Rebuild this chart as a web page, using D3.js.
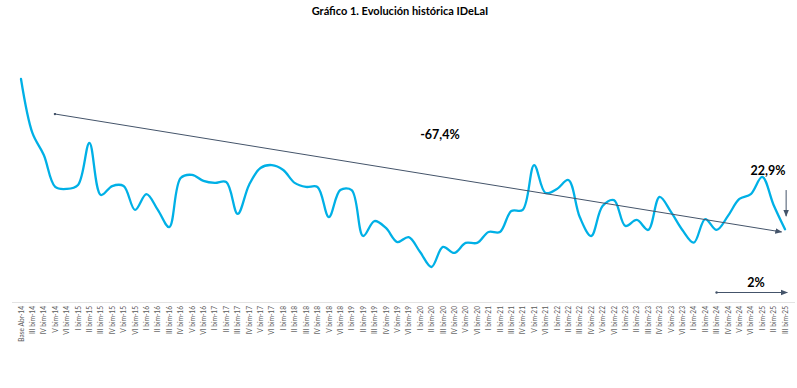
<!DOCTYPE html>
<html>
<head>
<meta charset="utf-8">
<script src="https://cdn.jsdelivr.net/npm/d3@7"></script>
<style>
  html, body { margin: 0; padding: 0; background: #ffffff; }
  svg { display: block; }
</style>
</head>
<body>
<svg id="chart" width="797" height="388"></svg>
<script>
// ---- Data ----
const categories = [
  "Base Abr-14","III bim-14","IV bim-14","V bim-14","VI bim-14",
  "I bim-15","II bim-15","III bim-15","IV bim-15","V bim-15","VI bim-15",
  "I bim-16","II bim-16","III bim-16","IV bim-16","V bim-16","VI bim-16",
  "I bim-17","II bim-17","III bim-17","IV bim-17","V bim-17","VI bim-17",
  "I bim-18","II bim-18","III bim-18","IV bim-18","V bim-18","VI bim-18",
  "I bim-19","II bim-19","III bim-19","IV bim-19","V bim-19","VI bim-19",
  "I bim-20","II bim-20","III bim-20","IV bim-20","V bim-20","VI bim-20",
  "I bim-21","II bim-21","III bim-21","IV bim-21","V bim-21","VI bim-21",
  "I bim-22","II bim-22","III bim-22","IV bim-22","V bim-22","VI bim-22",
  "I bim-23","II bim-23","III bim-23","IV bim-23","V bim-23","VI bim-23",
  "I bim-24","II bim-24","III bim-24","IV bim-24","V bim-24","VI bim-24",
  "I bim-25","II bim-25","III bim-25"
];
const idelaiValues = [
  100, 75.8, 65.9, 51.6, 50.7,
  52.5, 71.3, 48.0, 52.0, 52.0, 41.3,
  48.4, 41.3, 33.6, 55.6, 57.0, 54.3,
  53.4, 53.8, 39.5, 52.5, 60.1, 61.4,
  59.2, 53.4, 51.6, 51.6, 38.1, 50.2,
  50.2, 29.6, 36.3, 33.2, 26.9, 29.1,
  22.4, 15.7, 24.7, 22.0, 26.5, 26.5,
  31.4, 31.4, 40.8, 41.3, 61.4, 48.9,
  50.7, 54.7, 38.1, 29.6, 43.0, 45.7,
  34.1, 36.8, 32.3, 47.1, 40.4, 32.3,
  26.6, 37.2, 32.3, 38.6, 46.2, 48.4,
  56.1, 43.5, 32.6
];
const titleText = "Gráfico 1. Evolución histórica IDeLaI";
const annotationLabels = ["-67,4%", "22,9%", "2%"];

// ---- Layout ----
const svg = d3.select("#chart");
const x = d3.scalePoint().domain(categories).range([21, 785]);
const y = d3.scaleLinear().domain([0, 100]).range([302, 79]);

// defs: arrowheads
const defs = svg.append("defs");
defs.append("marker")
  .attr("id", "arrow").attr("viewBox", "0 0 10 10")
  .attr("refX", 9).attr("refY", 5)
  .attr("markerWidth", 7).attr("markerHeight", 7)
  .attr("orient", "auto-start-reverse")
  .append("path").attr("d", "M0,1 L10,5 L0,9 Z").attr("fill", "#44546A");
defs.append("marker")
  .attr("id", "dot").attr("viewBox", "0 0 10 10")
  .attr("refX", 5).attr("refY", 5)
  .attr("markerWidth", 3).attr("markerHeight", 3)
  .append("circle").attr("cx", 5).attr("cy", 5).attr("r", 4).attr("fill", "#44546A");

// title
svg.append("text")
  .attr("x", 400).attr("y", 15)
  .attr("text-anchor", "middle")
  .attr("font-family", "Lato, 'Open Sans', sans-serif")
  .attr("font-weight", "bold").attr("font-size", 11)
  .attr("fill", "#000")
  .text(titleText);

// x axis
const xAxis = d3.axisBottom(x).tickSize(0).tickPadding(0);
const gx = svg.append("g").attr("transform", "translate(0,302)").call(xAxis);
gx.select(".domain").attr("stroke", "#e3e3e3").attr("stroke-width", 1)
  .attr("d", "M12,0.5H795");
gx.selectAll(".tick text")
  .attr("transform", "rotate(-90)")
  .attr("text-anchor", "end")
  .attr("x", -4).attr("y", 0).attr("dy", "0.32em")
  .attr("font-family", "Lato, 'Open Sans', sans-serif")
  .attr("font-size", 6.6)
  .attr("fill", "#595959");

// series line
const line = d3.line()
  .x((d, i) => x(categories[i]))
  .y(d => y(d))
  .curve(d3.curveCatmullRom.alpha(0.5));
svg.append("path")
  .datum(idelaiValues)
  .attr("d", line)
  .attr("fill", "none")
  .attr("stroke", "#00B0E6")
  .attr("stroke-width", 2.3)
  .attr("stroke-linejoin", "round")
  .attr("stroke-linecap", "round");

// trend arrow (in data space: category index position & value)
const xi = i => x(categories[0]) + i * x.step();
svg.append("line")
  .attr("x1", xi(2.98)).attr("y1", y(84.3))
  .attr("x2", xi(66.7)).attr("y2", y(31.4))
  .attr("stroke", "#44546A").attr("stroke-width", 1)
  .attr("marker-start", "url(#dot)")
  .attr("marker-end", "url(#arrow)");

// vertical arrow near end
svg.append("line")
  .attr("x1", xi(67.1)).attr("y1", y(50.2))
  .attr("x2", xi(67.1)).attr("y2", y(38.5))
  .attr("stroke", "#44546A").attr("stroke-width", 1)
  .attr("marker-end", "url(#arrow)");

// horizontal arrow at bottom
svg.append("line")
  .attr("x1", xi(61)).attr("y1", 292.5)
  .attr("x2", xi(67.2)).attr("y2", 292.5)
  .attr("stroke", "#44546A").attr("stroke-width", 1)
  .attr("marker-start", "url(#dot)")
  .attr("marker-end", "url(#arrow)");

// annotation labels
const labelPos = [[440, 139, 12.5], [768, 175, 12.5], [756, 287, 12.5]];
annotationLabels.forEach((t, i) => {
  svg.append("text")
    .attr("x", labelPos[i][0]).attr("y", labelPos[i][1])
    .attr("text-anchor", "middle")
    .attr("font-family", "Lato, 'Open Sans', sans-serif")
    .attr("font-weight", "bold").attr("font-size", labelPos[i][2])
    .attr("fill", "#000")
    .text(t);
});
</script>
</body>
</html>
